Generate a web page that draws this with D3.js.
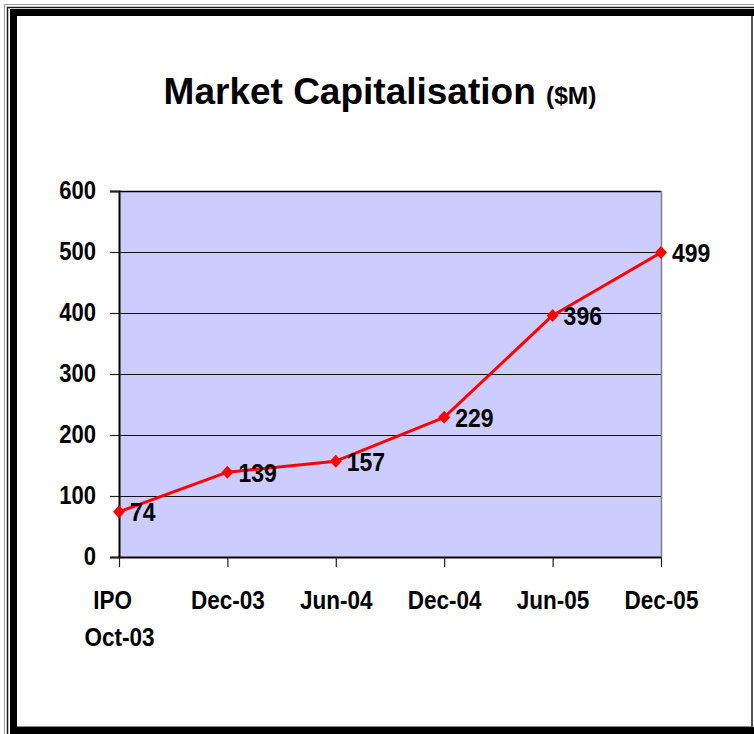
<!DOCTYPE html>
<html>
<head>
<meta charset="utf-8">
<script src="https://cdn.jsdelivr.net/npm/d3@7"></script>
<style>
  html, body { margin: 0; padding: 0; background: #fff; }
  svg { display: block; }
  text { font-family: "Liberation Sans", Arial, sans-serif; font-weight: bold; fill: #000; }
</style>
</head>
<body>
<svg id="chart" width="754" height="734"></svg>
<script>
// Market capitalisation ($M) at each reporting date
const periods = ["IPO\nOct-03", "Dec-03", "Jun-04", "Dec-04", "Jun-05", "Dec-05"];
const marketCap = [74, 139, 157, 229, 396, 499];
const yTicks = [0, 100, 200, 300, 400, 500, 600];

const svg = d3.select("#chart");
const W = 754, H = 734;
const stretch = 1.13; // labels are drawn slightly tall

// ---- picture frame ----
const frame = svg.append("g");
frame.append("path").attr("d", `M4.5,${H} V4.5 H${W}`)
  .attr("fill", "none").attr("stroke", "#9a9a9a").attr("stroke-width", 1);
frame.append("path").attr("d", `M7.5,${H} V7.5 H${W}`)
  .attr("fill", "none").attr("stroke", "#1a1a1a").attr("stroke-width", 1.5);
// heavy top and left bands
frame.append("rect").attr("x", 10).attr("y", 9).attr("width", W - 10).attr("height", 7).attr("fill", "#000");
frame.append("rect").attr("x", 10).attr("y", 9).attr("width", 7).attr("height", H - 9).attr("fill", "#000");
// bottom band and right edge
frame.append("rect").attr("x", 10).attr("y", 727).attr("width", W - 10).attr("height", H - 727).attr("fill", "#000");
frame.append("line").attr("x1", 17).attr("x2", 752).attr("y1", 726.5).attr("y2", 726.5)
  .attr("stroke", "#8a8a8a").attr("stroke-width", 1);
frame.append("line").attr("x1", 752).attr("x2", 752).attr("y1", 16).attr("y2", 727)
  .attr("stroke", "#555").attr("stroke-width", 2);

// ---- title ----
const title = svg.append("text").attr("x", 380).attr("y", 104).attr("text-anchor", "middle");
title.append("tspan").attr("font-size", 37).text("Market Capitalisation ");
title.append("tspan").attr("font-size", 24.5).text("($M)");

// ---- plot ----
const plot = { left: 119, right: 661, top: 191, bottom: 557 };

const x = d3.scalePoint().domain(periods).range([plot.left, plot.right]);
const y = d3.scaleLinear().domain([0, 600]).range([plot.bottom, plot.top]);

svg.append("rect")
  .attr("x", plot.left).attr("y", plot.top)
  .attr("width", plot.right - plot.left).attr("height", plot.bottom - plot.top)
  .attr("fill", "#ccccff");

// horizontal gridlines
svg.append("g").selectAll("line")
  .data(yTicks.filter(v => v > 0 && v < 600))
  .join("line")
  .attr("x1", plot.left).attr("x2", plot.right)
  .attr("y1", d => y(d) + 0.5).attr("y2", d => y(d) + 0.5)
  .attr("stroke", "#111").attr("stroke-width", 1);

// plot border: top black, right grey
svg.append("line").attr("x1", plot.left).attr("x2", plot.right)
  .attr("y1", plot.top + 0.5).attr("y2", plot.top + 0.5)
  .attr("stroke", "#000").attr("stroke-width", 1.5);
svg.append("line").attr("x1", plot.right + 0.5).attr("x2", plot.right + 0.5)
  .attr("y1", plot.top).attr("y2", plot.bottom)
  .attr("stroke", "#808080").attr("stroke-width", 1.5);

// y axis
const yAxis = svg.append("g")
  .attr("transform", `translate(${plot.left},0)`)
  .call(d3.axisLeft(y).tickValues(yTicks).tickSize(9).tickPadding(14).tickFormat(d3.format("d")));
yAxis.select(".domain").attr("stroke", "#000").attr("stroke-width", 2);
yAxis.selectAll(".tick line").attr("stroke", "#222").attr("stroke-width", 1.2);
yAxis.selectAll(".tick text")
  .attr("font-size", 22).attr("font-family", "Liberation Sans, Arial, sans-serif")
  .attr("font-weight", "bold").attr("fill", "#000")
  .attr("transform", `scale(1,${stretch})`);

// x axis
const xAxis = svg.append("g")
  .attr("transform", `translate(0,${plot.bottom})`)
  .call(d3.axisBottom(x).tickSize(10).tickFormat(""));
xAxis.select(".domain").attr("stroke", "#000").attr("stroke-width", 2).attr("d", `M${plot.left},0.5H${plot.right}`);
xAxis.selectAll(".tick line").attr("stroke", "#222").attr("stroke-width", 1.2);
xAxis.selectAll(".tick").each(function(d) {
  const lines = d.split("\n");
  lines.forEach((ln, i) => {
    const cy = 51 + i * 37 - 8; // visual centre of the line
    d3.select(this).append("text")
      .attr("text-anchor", "middle")
      .attr("font-size", 22.5)
      .attr("transform", `translate(${i === 0 && lines.length > 1 ? -7 : 0},${cy}) scale(1,${stretch})`)
      .attr("y", 8)
      .text(ln);
  });
});

// ---- series ----
const pts = periods.map((p, i) => ({ p, v: marketCap[i] }));

svg.append("path")
  .datum(pts)
  .attr("fill", "none")
  .attr("stroke", "#ff0000")
  .attr("stroke-width", 3)
  .attr("stroke-linejoin", "round")
  .attr("d", d3.line().x(d => x(d.p)).y(d => y(d.v)));

svg.append("g").selectAll("path")
  .data(pts)
  .join("path")
  .attr("transform", d => `translate(${x(d.p)},${y(d.v)})`)
  .attr("d", "M0,-6.5L6,0L0,6.5L-6,0Z")
  .attr("fill", "#ff0000");

svg.append("g").selectAll("text")
  .data(pts)
  .join("text")
  .attr("transform", d => `translate(${x(d.p) + 11},${y(d.v)}) scale(1,${stretch})`)
  .attr("dy", "0.36em")
  .attr("font-size", 23)
  .text(d => d.v);
</script>
</body>
</html>
